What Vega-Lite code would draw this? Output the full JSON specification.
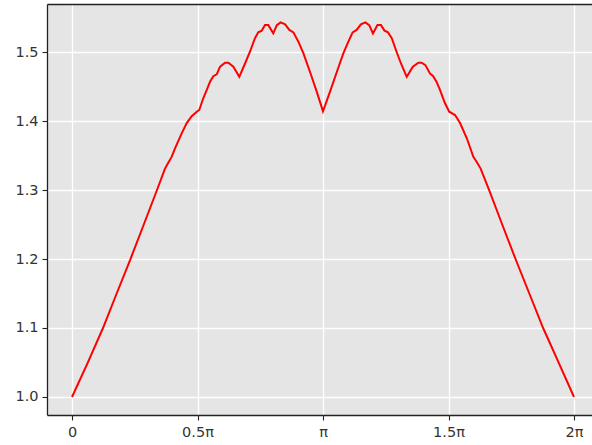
{
  "$schema": "https://vega.github.io/schema/vega-lite/v6.json",
  "width": 545,
  "height": 411,
  "autosize": {"type": "none"},
  "padding": {"left": 47, "top": 4, "right": 0, "bottom": 30},
  "background": "white",
  "config": {
    "view": {"fill": "#E5E5E5", "stroke": null},
    "axis": {
      "labelFont": "DejaVu Sans",
      "labelFontSize": 14.5,
      "labelColor": "#333333",
      "gridColor": "white",
      "gridWidth": 1.3,
      "gridOpacity": 1,
      "domainColor": "#222222",
      "domainWidth": 1.3,
      "tickColor": "#222222",
      "tickWidth": 1.1,
      "tickSize": 5,
      "labelPadding": 4,
      "title": null
    }
  },
  "data": {
    "values": [
      {"x": 0, "y": 1.0},
      {"x": 0.0625, "y": 1.0495},
      {"x": 0.1235, "y": 1.1},
      {"x": 0.178, "y": 1.15},
      {"x": 0.233, "y": 1.2},
      {"x": 0.286, "y": 1.25},
      {"x": 0.3386, "y": 1.3},
      {"x": 0.3705, "y": 1.331},
      {"x": 0.383, "y": 1.339},
      {"x": 0.397, "y": 1.348},
      {"x": 0.41, "y": 1.36},
      {"x": 0.437, "y": 1.382},
      {"x": 0.457, "y": 1.397},
      {"x": 0.477, "y": 1.407},
      {"x": 0.497, "y": 1.4135},
      {"x": 0.507, "y": 1.416},
      {"x": 0.523, "y": 1.433},
      {"x": 0.537, "y": 1.445},
      {"x": 0.55, "y": 1.457},
      {"x": 0.563, "y": 1.465},
      {"x": 0.5765, "y": 1.4677},
      {"x": 0.59, "y": 1.4787},
      {"x": 0.61, "y": 1.4845},
      {"x": 0.623, "y": 1.4845},
      {"x": 0.643, "y": 1.4787},
      {"x": 0.6665, "y": 1.464},
      {"x": 0.689, "y": 1.483},
      {"x": 0.709, "y": 1.5004},
      {"x": 0.729, "y": 1.52},
      {"x": 0.742, "y": 1.5285},
      {"x": 0.756, "y": 1.531},
      {"x": 0.769, "y": 1.539},
      {"x": 0.782, "y": 1.539},
      {"x": 0.802, "y": 1.527},
      {"x": 0.816, "y": 1.539},
      {"x": 0.831, "y": 1.543},
      {"x": 0.849, "y": 1.54},
      {"x": 0.866, "y": 1.532},
      {"x": 0.882, "y": 1.5285},
      {"x": 0.902, "y": 1.515},
      {"x": 0.922, "y": 1.498},
      {"x": 0.948, "y": 1.4714},
      {"x": 0.975, "y": 1.4425},
      {"x": 1.0, "y": 1.414},
      {"x": 1.028, "y": 1.4425},
      {"x": 1.055, "y": 1.471},
      {"x": 1.081, "y": 1.498},
      {"x": 1.101, "y": 1.515},
      {"x": 1.118, "y": 1.5285},
      {"x": 1.134, "y": 1.532},
      {"x": 1.151, "y": 1.54},
      {"x": 1.169, "y": 1.543},
      {"x": 1.184, "y": 1.539},
      {"x": 1.199, "y": 1.527},
      {"x": 1.217, "y": 1.539},
      {"x": 1.231, "y": 1.539},
      {"x": 1.245, "y": 1.531},
      {"x": 1.259, "y": 1.5285},
      {"x": 1.274, "y": 1.52},
      {"x": 1.293, "y": 1.5004},
      {"x": 1.311, "y": 1.483},
      {"x": 1.3335, "y": 1.464},
      {"x": 1.358, "y": 1.4787},
      {"x": 1.38, "y": 1.4845},
      {"x": 1.393, "y": 1.4845},
      {"x": 1.408, "y": 1.481},
      {"x": 1.426, "y": 1.469},
      {"x": 1.439, "y": 1.465},
      {"x": 1.452, "y": 1.457},
      {"x": 1.466, "y": 1.445},
      {"x": 1.486, "y": 1.4257},
      {"x": 1.503, "y": 1.4135},
      {"x": 1.526, "y": 1.4087},
      {"x": 1.546, "y": 1.397},
      {"x": 1.573, "y": 1.375},
      {"x": 1.599, "y": 1.348},
      {"x": 1.612, "y": 1.341},
      {"x": 1.628, "y": 1.331},
      {"x": 1.662, "y": 1.3},
      {"x": 1.714, "y": 1.25},
      {"x": 1.767, "y": 1.2},
      {"x": 1.822, "y": 1.15},
      {"x": 1.877, "y": 1.1},
      {"x": 1.938, "y": 1.0505},
      {"x": 2.0, "y": 1.0}
    ]
  },
  "layer": [
    {
      "mark": {"type": "line", "color": "#FF0000", "strokeWidth": 2, "clip": true},
      "encoding": {
        "x": {
          "field": "x",
          "type": "quantitative",
          "scale": {"domain": [-0.0996, 2.0717], "nice": false, "zero": false},
          "axis": {
            "orient": "bottom",
            "values": [0, 0.5, 1, 1.5, 2],
            "labelExpr": "datum.value == 0 ? '0' : datum.value == 1 ? 'π' : datum.value == 2 ? '2π' : datum.value + 'π'",
            "labelPadding": 5
          }
        },
        "y": {
          "field": "y",
          "type": "quantitative",
          "scale": {"domain": [0.9739, 1.5696], "nice": false, "zero": false},
          "axis": {"values": [1.0, 1.1, 1.2, 1.3, 1.4, 1.5], "format": ".1f"}
        }
      }
    },
    {
      "mark": {"type": "line", "opacity": 0},
      "encoding": {
        "x": {
          "field": "x",
          "type": "quantitative",
          "axis": {"orient": "top", "labels": false, "ticks": false, "grid": false, "domain": true}
        },
        "y": {"field": "y", "type": "quantitative"}
      }
    }
  ]
}
